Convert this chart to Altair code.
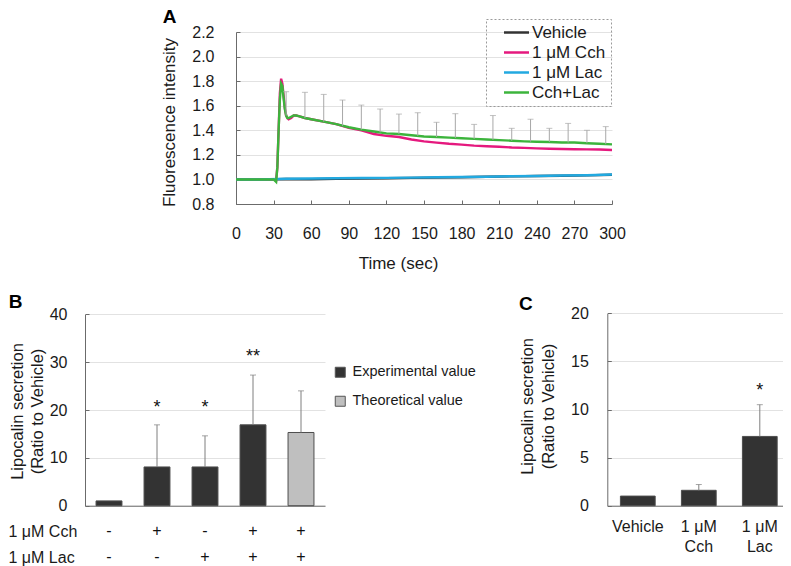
import altair as alt
import pandas as pd

FONT = "Liberation Sans"
W, H = 775, 558

# ---------------- Panel A : calcium traces ----------------
series_names = ["Vehicle", "1 μM Cch", "1 μM Lac", "Cch+Lac"]
series_colors = ["#333333", "#e5197e", "#22a9e0", "#3cb43c"]

t_flat = [0, 20, 40, 60, 80, 100, 120, 140, 160, 180, 200, 220, 240, 260, 280, 300]
vehicle = [1.000, 0.998, 1.003, 1.002, 1.006, 1.008, 1.010, 1.013, 1.015, 1.018,
           1.022, 1.025, 1.028, 1.030, 1.033, 1.038]
lac = [1.000, 1.000, 1.006, 1.007, 1.010, 1.012, 1.013, 1.015, 1.018, 1.020,
       1.022, 1.026, 1.028, 1.032, 1.034, 1.040]

t_resp = [0, 10, 20, 30, 32, 33, 34, 35, 36, 37, 38, 39, 40, 41, 42, 44, 46, 48, 50,
          55, 60, 70, 80, 90, 100, 110, 120, 130, 140, 150, 160, 170, 180, 190, 200,
          210, 220, 230, 240, 250, 260, 270, 280, 290, 300]
cch = [1.00, 1.00, 1.00, 1.00, 0.99, 1.10, 1.40, 1.70, 1.82, 1.78, 1.68, 1.58, 1.52,
       1.50, 1.49, 1.50, 1.52, 1.52, 1.515, 1.50, 1.49, 1.47, 1.45, 1.42, 1.40, 1.37,
       1.355, 1.345, 1.325, 1.31, 1.30, 1.29, 1.283, 1.275, 1.27, 1.266, 1.26, 1.257,
       1.253, 1.25, 1.248, 1.246, 1.245, 1.243, 1.24]
cch_lac = [1.00, 1.00, 1.00, 1.00, 0.98, 1.10, 1.40, 1.65, 1.78, 1.76, 1.66, 1.57, 1.52,
           1.50, 1.50, 1.51, 1.52, 1.52, 1.515, 1.50, 1.49, 1.47, 1.45, 1.425, 1.405,
           1.39, 1.375, 1.37, 1.36, 1.35, 1.345, 1.34, 1.335, 1.33, 1.325, 1.32, 1.315,
           1.31, 1.307, 1.305, 1.30, 1.30, 1.295, 1.29, 1.285]

err_t = [40, 55, 70, 85, 100, 115, 130, 145, 160, 175, 190, 205, 220, 235, 250, 265, 280, 295]
err_base = [1.52, 1.50, 1.47, 1.437, 1.405, 1.383, 1.37, 1.355, 1.345, 1.337, 1.33,
            1.322, 1.315, 1.308, 1.305, 1.30, 1.295, 1.287]
err_top = [1.714, 1.709, 1.692, 1.646, 1.605, 1.573, 1.532, 1.543, 1.465, 1.535, 1.448,
           1.52, 1.416, 1.49, 1.416, 1.456, 1.40, 1.43]

x_ticks_a = [0, 30, 60, 90, 120, 150, 180, 210, 240, 270, 300]
y_ticks_a = [0.8, 1.0, 1.2, 1.4, 1.6, 1.8, 2.0, 2.2]

# ---------------- Panel B ----------------
b_conditions = ["Vehicle", "Cch", "Lac", "Cch+Lac", "Theoretical"]
b_values = [1.0, 8.1, 8.1, 16.9, 15.3]
b_err_top = [None, 16.9, 14.6, 27.3, 24.0]
b_types = ["Experimental value", "Experimental value", "Experimental value",
           "Experimental value", "Theoretical value"]
b_cch = ["-", "+", "-", "+", "+"]
b_lac = ["-", "-", "+", "+", "+"]
b_stars = ["", "*", "*", "**", ""]
b_star_y = [None, 21.5, 21.5, 32.2, None]
b_rows = ["1 μM Cch", "1 μM Lac"]
b_type_names = ["Experimental value", "Theoretical value"]
b_type_fills = ["#333333", "#bfbfbf"]
y_ticks_b = [0, 10, 20, 30, 40]

# ---------------- Panel C ----------------
c_conditions = ["Vehicle", "1 μM Cch", "1 μM Lac"]
c_values = [1.0, 1.6, 7.2]
c_err_top = [None, 2.2, 10.5]
c_stars = ["", "", "*"]
c_star_y = [None, None, 12.4]
y_ticks_c = [0, 5, 10, 15, 20]

# ---------------- tables ----------------
rows = []
for name, ts, vs in [("Vehicle", t_flat, vehicle), ("1 μM Cch", t_resp, cch),
                     ("1 μM Lac", t_flat, lac), ("Cch+Lac", t_resp, cch_lac)]:
    for t, v in zip(ts, vs):
        rows.append({"t": t, "v": v, "series": name})
dfA = pd.DataFrame(rows)
dfErrA = pd.DataFrame({"t": err_t, "base": err_base, "top": err_top})

dfB = pd.DataFrame({"cond": b_conditions, "val": b_values, "type": b_types})
dfErrB = pd.DataFrame({"cond": b_conditions, "val": b_values, "top": b_err_top}).dropna()
dfStarB = pd.DataFrame({"cond": b_conditions, "s": b_stars, "y": b_star_y}).dropna()
dfTabB = pd.DataFrame(
    [{"cond": c, "row": b_rows[0], "sym": s} for c, s in zip(b_conditions, b_cch)]
    + [{"cond": c, "row": b_rows[1], "sym": s} for c, s in zip(b_conditions, b_lac)]
)

dfC = pd.DataFrame({"cond": c_conditions, "val": c_values})
dfErrC = pd.DataFrame({"cond": c_conditions, "val": c_values, "top": c_err_top}).dropna()
dfStarC = pd.DataFrame({"cond": c_conditions, "s": c_stars, "y": c_star_y}).dropna()

GREY_ERR_A = "#a8a8a8"
GREY_ERR = "#7f7f7f"

# ---------------- scales ----------------
def xA():
    return alt.Scale(domain=[0, 300], range=[228, 604], nice=False, zero=False)

def yA():
    return alt.Scale(domain=[0.8, 2.2], range=[196, 24], nice=False, zero=False)

def xB():
    return alt.Scale(type="band", domain=b_conditions, range=[77, 317],
                     paddingInner=0.46, paddingOuter=0.23)

def yB():
    return alt.Scale(domain=[0, 40], range=[497.7, 306.3], nice=False, zero=True)

def xC():
    return alt.Scale(type="band", domain=c_conditions, range=[599.3, 782.3],
                     paddingInner=0.43, paddingOuter=0.215)

def yC():
    return alt.Scale(domain=[0, 20], range=[497.7, 305.3], nice=False, zero=True)

def tick_axis(orient, offset, values, title=None, **kw):
    return alt.Axis(orient=orient, offset=offset, values=values, labels=False,
                    domain=False, grid=False, ticks=True, tickSize=4,
                    title=title, **kw)

letter = dict(titleFontSize=19, titleFontWeight="bold", titleAngle=0,
              titleAlign="center", titleBaseline="middle", titleColor="#000000")

# ---------------- Panel A layers ----------------
linesA = alt.Chart(dfA).mark_line(strokeWidth=2.4).encode(
    x=alt.X("t:Q", scale=xA(), axis=alt.Axis(
        orient="bottom", offset=196 - H, values=x_ticks_a, grid=False, ticks=False,
        tickSize=0, labelPadding=34, labelBaseline="alphabetic", labelFlush=False,
        labelOverlap=False, title="Time (sec)", titleX=390, titleY=64,
        titleBaseline="alphabetic", titleAlign="center", titleFontSize=17)),
    y=alt.Y("v:Q", scale=yA(), axis=alt.Axis(
        orient="left", offset=-228, values=y_ticks_a, format=".1f", grid=True,
        ticks=False, tickSize=0, labelPadding=22, labelBaseline="middle",
        labelFlush=False, labelOverlap=False, title="Fluorescence intensity",
        titleX=-62, titleY=114, titleAngle=270, titleAlign="center",
        titleBaseline="alphabetic", titleFontSize=17)),
    color=alt.Color("series:N", scale=alt.Scale(domain=series_names, range=series_colors),
                    legend=alt.Legend(orient="none", legendX=478, legendY=11, title=None,
                                      symbolType="M-2,0H2", symbolSize=156.25,
                                      symbolStrokeWidth=2.5, labelFontSize=17,
                                      strokeColor="#9a9a9a", padding=5, symbolOffset=17,
                                      rowPadding=2, labelOffset=7)),
)

errA = alt.Chart(dfErrA).mark_rule(color=GREY_ERR_A, strokeWidth=1).encode(
    x=alt.X("t:Q", scale=xA(), axis=tick_axis("top", -196, x_ticks_a, "A",
                                               titleX=161, titleY=-188, **letter)),
    y=alt.Y("base:Q", scale=yA(), axis=tick_axis("right", 228 - W, y_ticks_a)),
    y2="top:Q",
)
capsA = alt.Chart(dfErrA).mark_tick(orient="horizontal", size=6, thickness=1,
                                    color=GREY_ERR_A).encode(
    x=alt.X("t:Q", scale=xA(), axis=None),
    y=alt.Y("top:Q", scale=yA(), axis=None),
)

# ---------------- Panel B layers ----------------
barsB = alt.Chart(dfB).mark_bar(stroke="#4d4d4d", strokeWidth=1).encode(
    x=alt.X("cond:N", scale=xB(), axis=alt.Axis(
        orient="bottom", offset=497.7 - H, labels=False, ticks=False, grid=False,
        title=None)),
    y=alt.Y("val:Q", scale=yB(), axis=alt.Axis(
        orient="left", offset=-77, values=y_ticks_b, grid=True, ticks=False,
        tickSize=0, labelPadding=18, labelBaseline="middle", labelFlush=False,
        title=["Lipocalin secretion", "(Ratio to Vehicle)"], titleX=-67.5, titleY=403,
        titleAngle=270, titleAlign="center", titleBaseline="middle",
        titleLineHeight=19.5, titleFontSize=16.5)),
    fill=alt.Fill("type:N", scale=alt.Scale(domain=b_type_names, range=b_type_fills),
                  legend=alt.Legend(orient="none", legendX=325, legendY=357, title=None,
                                    symbolType="square", symbolSize=100,
                                    symbolStrokeColor="#555555", symbolStrokeWidth=1,
                                    labelFontSize=14.5, rowPadding=13, labelOffset=5)),
)
errB = alt.Chart(dfErrB).mark_rule(color=GREY_ERR, strokeWidth=1).encode(
    x=alt.X("cond:N", scale=xB(), axis=None),
    y=alt.Y("val:Q", scale=yB(), axis=tick_axis("right", 77 - W, y_ticks_b, "B",
                                                titleX=-70, titleY=293, **letter)),
    y2="top:Q",
)
capsB = alt.Chart(dfErrB).mark_tick(orient="horizontal", size=6, thickness=1,
                                    color=GREY_ERR).encode(
    x=alt.X("cond:N", scale=xB(), axis=None),
    y=alt.Y("top:Q", scale=yB(), axis=None),
)
starsB = alt.Chart(dfStarB).mark_text(font=FONT, fontSize=18, dy=5, color="#111111").encode(
    x=alt.X("cond:N", scale=xB(), axis=None),
    y=alt.Y("y:Q", scale=yB(), axis=None),
    text="s:N",
)
tableB = alt.Chart(dfTabB).mark_text(font=FONT, fontSize=16, color="#111111").encode(
    x=alt.X("cond:N", scale=xB(), axis=None),
    y=alt.Y("row:N", scale=alt.Scale(type="point", domain=b_rows, range=[523, 549],
                                     padding=0),
            axis=alt.Axis(orient="left", offset=0, domain=False, ticks=False, tickSize=0,
                          grid=False, labelPadding=0, labelAlign="left",
                          labelBaseline="middle", labelFontSize=16, title=None)),
    text="sym:N",
)

# ---------------- Panel C layers ----------------
barsC = alt.Chart(dfC).mark_bar(stroke="#4d4d4d", strokeWidth=1, color="#333333").encode(
    x=alt.X("cond:N", scale=xC(), axis=alt.Axis(
        orient="bottom", offset=497.7 - H, ticks=False, tickSize=0, grid=False,
        labelPadding=13, labelBaseline="top", labelAngle=0, labelLineHeight=20,
        labelFontSize=16,
        labelExpr="datum.label == 'Vehicle' ? 'Vehicle' : [slice(datum.label, 0, 4), slice(datum.label, 5)]",
        title=None)),
    y=alt.Y("val:Q", scale=yC(), axis=alt.Axis(
        orient="left", offset=-599.3, values=y_ticks_c, grid=True, ticks=False,
        tickSize=0, labelPadding=19, labelBaseline="middle", labelFlush=False,
        title=["Lipocalin secretion", "(Ratio to Vehicle)"], titleX=-79.5, titleY=398,
        titleAngle=270, titleAlign="center", titleBaseline="middle",
        titleLineHeight=20.5, titleFontSize=16.5)),
)
errC = alt.Chart(dfErrC).mark_rule(color=GREY_ERR, strokeWidth=1).encode(
    x=alt.X("cond:N", scale=xC(), axis=None),
    y=alt.Y("val:Q", scale=yC(), axis=tick_axis("right", 599.3 - W, y_ticks_c, "C",
                                                titleX=-82, titleY=295, **letter)),
    y2="top:Q",
)
capsC = alt.Chart(dfErrC).mark_tick(orient="horizontal", size=6, thickness=1,
                                    color=GREY_ERR).encode(
    x=alt.X("cond:N", scale=xC(), axis=None),
    y=alt.Y("top:Q", scale=yC(), axis=None),
)
starsC = alt.Chart(dfStarC).mark_text(font=FONT, fontSize=18, dy=5, color="#111111").encode(
    x=alt.X("cond:N", scale=xC(), axis=None),
    y=alt.Y("y:Q", scale=yC(), axis=None),
    text="s:N",
)

chart = (
    alt.layer(linesA, errA, capsA, barsB, errB, capsB, starsB, tableB,
              barsC, errC, capsC, starsC)
    .resolve_scale(x="independent", y="independent", color="independent",
                   fill="independent")
    .resolve_axis(x="independent", y="independent")
    .resolve_legend(color="independent", fill="independent")
    .properties(width=W, height=H, autosize=alt.AutoSizeParams(type="none"), padding=0)
    .configure(font=FONT)
    .configure_view(stroke=None)
    .configure_axis(labelFont=FONT, titleFont=FONT, labelColor="#1a1a1a",
                    titleColor="#1a1a1a", domainColor="#6b6b6b", tickColor="#6b6b6b",
                    gridColor="#e2e2e2", labelFontSize=16, titleFontWeight="normal")
    .configure_legend(labelFont=FONT, labelColor="#1a1a1a", strokeDash=[2, 2])
)

chart.save("out.html", embed_options={"renderer": "svg", "actions": False})
